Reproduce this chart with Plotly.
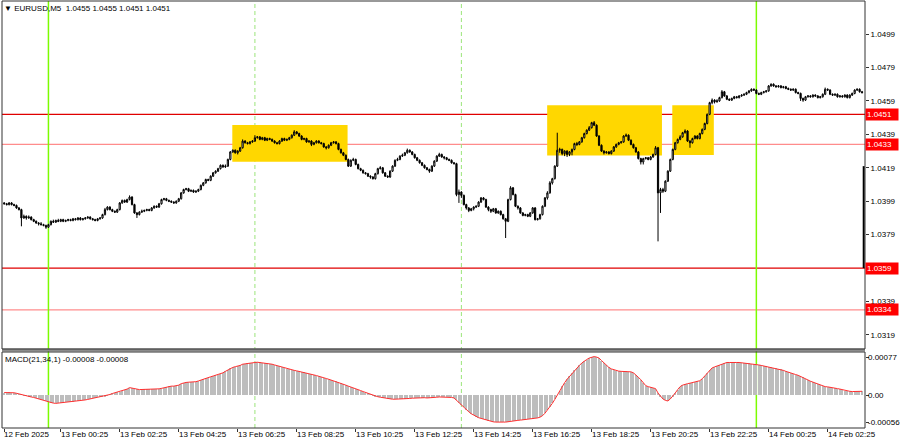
import plotly.graph_objects as go

# ---------------- data (prices stored as pips above BASE) ----------------
BASE = 1.0300
PIP = 0.0001

open_pips = [
    98, 97.5, 97, 98, 97, 96.5, 95, 94, 89, 90,
    89, 89.5, 88, 87, 86, 85.5, 85, 84.5, 83.5, 85,
    87, 86.5, 87.5, 87, 88, 87, 87.5, 88, 87.5, 88.5,
    88, 89, 88, 88.5, 89, 89.5, 88.5, 88, 87.5, 88.5,
    89, 91, 94, 95.5, 94, 93, 92.5, 94, 98, 99.5,
    98.5, 100, 101.5, 97, 92, 91, 92.5, 93, 93.5, 94,
    93.5, 95, 96, 95.5, 97.5, 100, 100.5, 99.5, 99, 98.5,
    98, 99, 100.5, 104, 106, 106.5, 105, 105.5, 104.5, 105,
    106, 108.5, 110, 112, 111.5, 114, 116, 117, 118.5, 120.5,
    119.5, 120, 124, 128.5, 129.5, 128, 129, 131, 135, 134,
    133.5, 134.5, 135, 137, 137.5, 136, 137, 135.5, 136.5, 136,
    135, 134, 133.5, 135, 136.5, 135.5, 136, 137, 138.5, 140.5,
    139.5, 138, 136, 136.5, 134.5, 135, 133, 134, 135, 134,
    133.5, 131.5, 131, 132.5, 134, 134.5, 133.5, 130, 128, 126.5,
    124, 120, 123.5, 124, 121, 118.5, 117.5, 116, 115.5, 114,
    113.5, 112.5, 115.5, 118.5, 119, 116, 114, 113.5, 117, 120,
    123.5, 124, 126, 126.5, 128, 129.5, 128.5, 127, 125, 123.5,
    122, 120.5, 119, 118, 117, 120, 123, 126, 127, 125.5,
    125, 124, 123.5, 122, 121.5, 103, 104.5, 102.5, 97, 95,
    93.5, 94.5, 95.5, 96, 98.5, 101, 100, 95.5, 94, 93,
    94.5, 92, 93, 91, 88.5, 87, 100, 107, 103, 96,
    95, 92, 90.5, 91, 90, 92, 95, 88, 88.5, 91,
    96, 101, 104, 110, 112.5, 120, 129.5, 130, 127.5, 129,
    127, 128.5, 130, 133.5, 133, 134.5, 137, 139.5, 141.5, 143,
    146, 144.5, 138, 132.5, 129, 128, 128.5, 127.5, 129, 131.5,
    133, 134, 134.5, 138, 138.5, 135.5, 133, 131, 128.5, 124.5,
    122.5, 124.5, 125, 124, 125.5, 127, 131, 104, 106, 105,
    111, 117, 124, 130, 134, 136, 137.5, 140, 141, 135,
    134, 136.5, 138, 136.5, 139.5, 142, 145.5, 151, 158, 159.5,
    158.5, 159, 161, 164.5, 162, 160, 159.5, 160.5, 161.5, 161,
    162, 162.5, 163, 164, 165, 166, 165.5, 163.5, 163, 164,
    164.5, 165, 168, 169, 168, 167.5, 168, 167, 167.5, 166.5,
    166, 165.5, 166, 164, 163.5, 160.5, 159.5, 161.5, 162, 161.5,
    162.5, 162, 161, 161.5, 163, 166, 165.5, 163, 162.5, 163,
    161.5, 162, 161.5, 162.5, 161, 162.5, 163.5, 165.5, 166, 164.5,
]

high_pips = [
    98.5, 98, 98.5, 98.5, 97.5, 97, 95.5, 94.5, 91, 90.5,
    90.5, 90, 88.5, 87.5, 86.5, 86.5, 85.5, 85, 85.5, 87.5,
    88, 88, 88.5, 88.5, 88.5, 88, 88.5, 88.5, 89, 89,
    89.5, 89.5, 89, 89.5, 90, 90, 89, 88.5, 89, 89.5,
    91.5, 95, 96, 96, 94.5, 93.5, 94.5, 98.5, 100, 100,
    100.5, 102.5, 102, 97.5, 92.5, 93, 94, 94, 94.5, 94.5,
    95.5, 96.5, 96.5, 98, 100.5, 101, 101, 100, 99.5, 99,
    99.5, 101, 104.5, 106.5, 107, 107, 106, 106, 105.5, 106.5,
    109, 110.5, 112.5, 112.5, 114.5, 116.5, 117.5, 119, 121, 121,
    121, 124.5, 129, 130, 130, 129.5, 131.5, 136, 135.5, 134.5,
    135, 135.5, 138.5, 138, 138, 137.5, 137.5, 137, 137, 136.5,
    135.5, 134.5, 135.5, 137, 137, 136.5, 137.5, 139, 141.5, 141,
    140, 138.5, 137, 137, 135.5, 135.5, 134.5, 135.5, 135.5, 134.5,
    134, 132, 133, 134.5, 135, 135, 134, 130.5, 128.5, 127,
    124.5, 124, 125, 124.5, 121.5, 119, 118, 116.5, 116, 114.5,
    114, 116, 119, 120, 119.5, 116.5, 114.5, 117.5, 120.5, 124,
    125, 126.5, 127.5, 128.5, 130.5, 130, 129, 127.5, 125.5, 124,
    122.5, 121, 119.5, 118.5, 120.5, 123.5, 126.5, 128, 127.5, 126,
    125.5, 124.5, 124, 122.5, 122, 106, 105, 103, 97.5, 95.5,
    95, 96, 96.5, 99, 101.5, 101.5, 100.5, 96, 94.5, 95,
    95, 93.5, 93.5, 91.5, 89, 100.5, 108, 107.5, 103.5, 96.5,
    95.5, 92.5, 91.5, 91.5, 92.5, 95.5, 95.5, 89, 91.5, 96.5,
    101.5, 105, 111, 113, 120.5, 140, 131, 130.5, 129.5, 129.5,
    129, 130.5, 134, 134.5, 135, 137.5, 140, 142, 144, 146.5,
    147, 145, 138.5, 133, 129.5, 129, 129, 129.5, 132, 133.5,
    134.5, 135, 138.5, 139.5, 139, 136, 133.5, 131.5, 129, 125,
    125, 125.5, 125.5, 126, 127.5, 132, 131.5, 107, 107, 111.5,
    117.5, 124.5, 130.5, 134.5, 136.5, 138.5, 140.5, 142, 141.5, 135.5,
    137, 138.5, 138.5, 140, 142.5, 146, 151.5, 158.5, 160.5, 160,
    160, 161.5, 165.5, 165, 162.5, 160.5, 161, 162, 162, 162.5,
    163, 163.5, 164.5, 165.5, 166.5, 166.5, 166, 164, 164.5, 165,
    165.5, 168.5, 169.5, 169.5, 168.5, 168.5, 168.5, 168, 168, 167,
    166.5, 166.5, 166.5, 164.5, 164, 161, 162, 162.5, 162.5, 163,
    163, 162.5, 162, 163.5, 167, 166.5, 166, 163.5, 163.5, 163.5,
    162.5, 162.5, 163, 163, 163, 164, 166, 166.5, 166.5, 165,
]

low_pips = [
    97, 96.5, 96.5, 96.5, 96, 94.5, 93.5, 84, 88.5, 88,
    88.5, 87.5, 86.5, 85.5, 84.5, 84.5, 84, 82.5, 83, 84.5,
    86, 86, 86.5, 86.5, 86.5, 86.5, 87, 87, 87, 87.5,
    87.5, 87.5, 87.5, 88, 88.5, 88, 87.5, 87, 87, 88,
    88.5, 90.5, 93.5, 93.5, 92.5, 92, 92, 93.5, 97.5, 98,
    98, 99.5, 96.5, 91.5, 89, 90.5, 92, 92.5, 93, 93,
    93, 94.5, 95, 95, 97, 99.5, 99, 98.5, 98, 97.5,
    97.5, 98.5, 100, 103.5, 105.5, 104.5, 104.5, 104, 104, 104.5,
    105.5, 108, 109.5, 111, 111, 113.5, 115.5, 116.5, 118, 119,
    119, 119.5, 123.5, 128, 127.5, 127, 128.5, 130.5, 133.5, 133,
    133, 134, 134.5, 136.5, 135.5, 135.5, 135, 135, 135.5, 134.5,
    133.5, 133, 133, 134.5, 135, 135, 135.5, 136.5, 138, 139,
    137.5, 135.5, 135.5, 134, 134, 132, 132.5, 133.5, 133.5, 133,
    131, 130, 130.5, 132, 133.5, 133, 129.5, 127.5, 126, 123.5,
    119.5, 119.5, 123, 120.5, 118, 117, 115.5, 115, 113.5, 112.5,
    112, 112, 115, 118, 115.5, 113.5, 113, 113, 116.5, 119.5,
    123, 123.5, 125.5, 126, 127.5, 128, 126.5, 124.5, 123, 121.5,
    120, 118.5, 117.5, 116, 116.5, 119.5, 122.5, 125.5, 125, 124,
    123.5, 123, 121.5, 121, 102, 98, 101, 96.5, 94, 92.5,
    93, 93.5, 95, 95.5, 98, 99.5, 95, 93, 92, 92.5,
    91.5, 91.5, 90.5, 88, 77, 86.5, 99.5, 102.5, 95.5, 94,
    91.5, 90, 90, 89.5, 89.5, 91.5, 87.5, 87.5, 88, 90.5,
    95.5, 100, 103.5, 109, 112, 119.5, 128, 126.5, 126, 125.5,
    126, 126.5, 129.5, 132, 132.5, 134, 136.5, 139, 141, 142.5,
    144, 137.5, 132, 128.5, 127, 127.5, 127, 127, 128.5, 131,
    132.5, 133.5, 134, 137.5, 135, 132.5, 130.5, 128, 124, 121,
    121, 124, 123.5, 123.5, 125, 126.5, 75, 92, 104, 104.5,
    110.5, 116.5, 123.5, 129.5, 133.5, 135.5, 137, 139.5, 134.5, 131,
    133.5, 136, 136, 136, 139, 141.5, 145, 150.5, 157, 157.5,
    158, 158.5, 160.5, 161.5, 159.5, 159, 159, 160, 160.5, 160.5,
    161.5, 162, 162.5, 163.5, 164.5, 165, 163, 162.5, 162.5, 163.5,
    164, 164.5, 167.5, 167.5, 167, 167, 166.5, 166.5, 166, 165.5,
    165, 165, 163.5, 163, 159, 158.5, 159, 161, 161, 161,
    161.5, 160.5, 160.5, 161, 162.5, 165, 162.5, 162, 162, 161,
    161, 161, 161, 160.5, 160.5, 162, 163, 165, 164, 163.5,
]

close_pips = [
    97.5, 97, 98, 97, 96.5, 95, 94, 89, 90, 89,
    89.5, 88, 87, 86, 85.5, 85, 84.5, 83.5, 85, 87,
    86.5, 87.5, 87, 88, 87, 87.5, 88, 87.5, 88.5, 88,
    89, 88, 88.5, 89, 89.5, 88.5, 88, 87.5, 88.5, 89,
    91, 94, 95.5, 94, 93, 92.5, 94, 98, 99.5, 98.5,
    100, 101.5, 97, 92, 91, 92.5, 93, 93.5, 94, 93.5,
    95, 96, 95.5, 97.5, 100, 100.5, 99.5, 99, 98.5, 98,
    99, 100.5, 104, 106, 106.5, 105, 105.5, 104.5, 105, 106,
    108.5, 110, 112, 111.5, 114, 116, 117, 118.5, 120.5, 119.5,
    120, 124, 128.5, 129.5, 128, 129, 131, 135, 134, 133.5,
    134.5, 135, 137, 137.5, 136, 137, 135.5, 136.5, 136, 135,
    134, 133.5, 135, 136.5, 135.5, 136, 137, 138.5, 140.5, 139.5,
    138, 136, 136.5, 134.5, 135, 133, 134, 135, 134, 133.5,
    131.5, 131, 132.5, 134, 134.5, 133.5, 130, 128, 126.5, 124,
    120, 123.5, 124, 121, 118.5, 117.5, 116, 115.5, 114, 113.5,
    112.5, 115.5, 118.5, 119, 116, 114, 113.5, 117, 120, 123.5,
    124, 126, 126.5, 128, 129.5, 128.5, 127, 125, 123.5, 122,
    120.5, 119, 118, 117, 120, 123, 126, 127, 125.5, 125,
    124, 123.5, 122, 121.5, 103, 104.5, 102.5, 97, 95, 93.5,
    94.5, 95.5, 96, 98.5, 101, 100, 95.5, 94, 93, 94.5,
    92, 93, 91, 88.5, 87, 100, 107, 103, 96, 95,
    92, 90.5, 91, 90, 92, 95, 88, 88.5, 91, 96,
    101, 104, 110, 112.5, 120, 129.5, 130, 127.5, 129, 127,
    128.5, 130, 133.5, 133, 134.5, 137, 139.5, 141.5, 143, 146,
    144.5, 138, 132.5, 129, 128, 128.5, 127.5, 129, 131.5, 133,
    134, 134.5, 138, 138.5, 135.5, 133, 131, 128.5, 124.5, 122.5,
    124.5, 125, 124, 125.5, 127, 131, 104, 106, 105, 111,
    117, 124, 130, 134, 136, 137.5, 140, 141, 135, 134,
    136.5, 138, 136.5, 139.5, 142, 145.5, 151, 158, 159.5, 158.5,
    159, 161, 164.5, 162, 160, 159.5, 160.5, 161.5, 161, 162,
    162.5, 163, 164, 165, 166, 165.5, 163.5, 163, 164, 164.5,
    165, 168, 169, 168, 167.5, 168, 167, 167.5, 166.5, 166,
    165.5, 166, 164, 163.5, 160.5, 159.5, 161.5, 162, 161.5, 162.5,
    162, 161, 161.5, 163, 166, 165.5, 163, 162.5, 163, 161.5,
    162, 161.5, 162.5, 161, 162.5, 163.5, 165.5, 166, 164.5, 164,
]

# MACD(21,34,1) values in units of 1e-5
macd_e5 = [
    5, 5, 5.5, 5, 4.5, 3.5, 2, 0.5, -1, -2,
    -3, -4, -5, -6.5, -8, -9.5, -11, -13, -15, -16,
    -16.5, -17, -16.5, -16, -15.5, -15, -14.5, -14, -13.5, -13,
    -12, -11, -10.5, -10, -9, -8, -7, -6, -4.5, -3.5,
    -3, -2.5, -1, 1, 3, 4.5, 6, 7, 8, 9.5,
    12, 15, 14.5, 13, 12, 11, 11, 11.5, 11.5, 11.5,
    11.5, 12, 12, 12.5, 13.5, 15, 16.5, 17.5, 18, 18,
    18.5, 20, 23, 25, 25.5, 26, 26, 26.5, 27, 28.5,
    30.5, 32, 34, 35, 37, 38.5, 40, 41, 43, 45,
    48, 51, 54, 56, 57.5, 58.5, 60, 62.5, 63.5, 64,
    64.5, 65, 66, 66.5, 66, 65.5, 65, 64.5, 63.5, 62.5,
    61, 59.5, 58, 56, 54.5, 53, 52, 51, 50, 49,
    48, 47, 46, 44.5, 43, 42, 40.5, 39.5, 38, 37,
    35, 33.5, 32, 30.5, 29, 27.5, 26, 24, 22, 20,
    18, 16.5, 15, 13, 11, 9, 7, 5, 3, 1,
    -1, -2.5, -3.5, -4.5, -5.5, -6.5, -7.5, -8, -8.5, -8.5,
    -8.5, -8, -8, -7.5, -7, -7, -6.5, -6, -6, -5.5,
    -5.5, -5.5, -6, -6, -5.5, -5, -4.5, -4, -4, -4,
    -4, -4.5, -5, -6, -11, -16, -20, -25, -30, -34,
    -38, -41, -44, -46, -47.5, -49, -51, -52.5, -53.5, -54.5,
    -55, -55.5, -55.5, -55, -55, -54, -53, -52.5, -52, -51.5,
    -51, -50.5, -50, -49.5, -49, -48, -47.5, -46.5, -45, -42,
    -37, -31, -24, -17, -9, 0, 9, 18, 25, 32,
    38, 44, 50, 55, 60, 65, 69, 72, 75, 77,
    78, 77, 75, 70, 65, 60, 56, 53, 51, 49.5,
    48.5, 48, 48, 48, 47.5, 47, 45, 41, 36, 31,
    24, 19, 17, 16, 15, 13, 4, -3, -8, -11,
    -12, -8, -3, 4, 11, 17, 20, 22, 23, 24,
    25, 26, 27.5, 29, 33, 39, 45, 50, 55, 57,
    59, 61, 63.5, 65, 66, 66, 66.5, 66.5, 66, 66,
    65.5, 65, 64.5, 64, 63.5, 63, 62, 61, 60, 59,
    58, 57, 56, 55, 54.5, 53.5, 52, 50, 48, 46,
    44.5, 43, 41.5, 40, 38, 36, 33, 30.5, 28, 26,
    24, 22, 20, 18, 17, 16.5, 16, 15, 14, 13,
    12, 10.5, 9, 8, 7.5, 7, 7, 7.5, 8, 7.5,
]

time_label_bars = [0, 23, 47, 71, 95, 119, 143, 167, 191, 215, 239, 263, 287, 311, 335]
time_labels = ["12 Feb 2025", "13 Feb 00:25", "13 Feb 02:25", "13 Feb 04:25",
               "13 Feb 06:25", "13 Feb 08:25", "13 Feb 10:25", "13 Feb 12:25",
               "13 Feb 14:25", "13 Feb 16:25", "13 Feb 18:25", "13 Feb 20:25",
               "13 Feb 22:25", "14 Feb 00:25", "14 Feb 02:25"]

price_ticks = [1.0319, 1.0339, 1.0359, 1.0379, 1.0399, 1.0419, 1.0439, 1.0459, 1.0479, 1.0499]
macd_ticks = [-0.00056, 0.0, 0.00077]
macd_tick_text = ["-0.00056", "0.00", "0.00077"]

strong_levels = [1.0451, 1.0359]
weak_levels = [1.0433, 1.0334]

zone_start = [92.8, 220.9, 271.8]
zone_end = [139.7, 267.6, 288.7]
zone_top = [1.04446, 1.04564, 1.04564]
zone_bottom = [1.04226, 1.04264, 1.04267]

day_lines = [18, 306]
session_lines = [102, 186]

edge_bar = [1.0420, 1.0359]

header_text = "\u25bc EURUSD,M5  1.0455 1.0455 1.0451 1.0451"
macd_header = "MACD(21,34,1) -0.00008 -0.00008"

# ---------------- build ----------------
n = len(close_pips)
bars = list(range(n))
to_price = lambda arr: [round(BASE + v * PIP, 5) for v in arr]
o, h, l, c = to_price(open_pips), to_price(high_pips), to_price(low_pips), to_price(close_pips)
macd = [v * 1e-5 for v in macd_e5]

FONT = "Liberation Sans, Arial, sans-serif"
W, H = 900, 441
ML, MR, MT, MB = 2, 35, 1, 13
PH = H - MT - MB


def py(pix):  # pixel row -> paper y
    return (H - MB - pix) / PH


main_dom = [py(349), 1.0]
macd_dom = [0.0, py(352)]

fig = go.Figure()
fig.add_trace(go.Candlestick(
    x=bars, open=o, high=h, low=l, close=c,
    increasing=dict(line=dict(color="black", width=1), fillcolor="white"),
    decreasing=dict(line=dict(color="black", width=1), fillcolor="black"),
    whiskerwidth=0, xaxis="x", yaxis="y", showlegend=False, hoverinfo="skip"))
fig.add_trace(go.Bar(
    x=bars, y=macd, width=0.5, marker=dict(color="#BDBDBD", line=dict(width=0)),
    xaxis="x", yaxis="y2", showlegend=False, hoverinfo="skip"))
fig.add_trace(go.Scatter(
    x=bars, y=macd, mode="lines", line=dict(color="#FF3030", width=1),
    xaxis="x", yaxis="y2", showlegend=False, hoverinfo="skip"))

shapes = []
for x0, x1, y1, y0 in zip(zone_start, zone_end, zone_top, zone_bottom):
    shapes.append(dict(type="rect", xref="x", yref="y", x0=x0, x1=x1, y0=y0, y1=y1,
                       fillcolor="#FFD700", line=dict(width=0), layer="below"))
for lv in weak_levels:
    shapes.append(dict(type="line", xref="paper", yref="y", x0=0, x1=1, y0=lv, y1=lv,
                       line=dict(color="rgba(255,0,0,0.45)", width=1.3), layer="below"))
for lv in strong_levels:
    shapes.append(dict(type="line", xref="paper", yref="y", x0=0, x1=1, y0=lv, y1=lv,
                       line=dict(color="#E00000", width=1.3), layer="below"))
for b in day_lines:
    shapes.append(dict(type="line", xref="x", yref="paper", x0=b, x1=b, y0=0, y1=1,
                       line=dict(color="#7CFC00", width=1.5), layer="below"))
for b in session_lines:
    shapes.append(dict(type="line", xref="x", yref="paper", x0=b, x1=b, y0=0, y1=1,
                       line=dict(color="#9BE57A", width=1, dash="4px,3px"), layer="below"))
# right-edge black bar
shapes.append(dict(type="line", xref="paper", yref="y", x0=0.9985, x1=0.9985,
                   y0=edge_bar[1], y1=edge_bar[0], line=dict(color="black", width=2)))
# panel separator and frames
shapes.append(dict(type="rect", xref="paper", yref="paper", x0=0, x1=1,
                   y0=py(351.5), y1=py(348.5), fillcolor="#8C8C8C", line=dict(width=0)))
shapes.append(dict(type="rect", xref="paper", yref="paper", x0=0, x1=1,
                   y0=main_dom[0], y1=1, line=dict(color="#333333", width=1)))
shapes.append(dict(type="rect", xref="paper", yref="paper", x0=0, x1=1,
                   y0=0, y1=macd_dom[1], line=dict(color="#333333", width=1)))

annotations = []
for b, t in zip(time_label_bars, time_labels):
    annotations.append(dict(x=b, xref="x", y=py(434), yref="paper", text=t,
                            showarrow=False, xanchor="left", yanchor="middle", xshift=-2,
                            font=dict(family=FONT, size=8, color="black")))
for lv in strong_levels + weak_levels:
    annotations.append(dict(x=1, xref="paper", y=lv, yref="y", text=f"{lv:.4f}",
                            showarrow=False, xanchor="left", yanchor="middle", xshift=0,
                            bgcolor="#FF0000", borderpad=1, width=30, align="left",
                            font=dict(family=FONT, size=8, color="white")))
for v, t in zip(macd_ticks, macd_tick_text):
    annotations.append(dict(x=1, xref="paper", y=v, yref="y2", text=t,
                            showarrow=False, xanchor="left", yanchor="middle", xshift=1,
                            font=dict(family=FONT, size=8, color="black")))
annotations.append(dict(x=0, xref="paper", y=1, yref="paper", text=header_text,
                        showarrow=False, xanchor="left", yanchor="top", xshift=0, yshift=-1,
                        font=dict(family=FONT, size=8, color="black")))
annotations.append(dict(x=0, xref="paper", y=macd_dom[1], yref="paper", text=macd_header,
                        showarrow=False, xanchor="left", yanchor="top", xshift=1, yshift=-1,
                        font=dict(family=FONT, size=8, color="black")))

xmin = (ML - 4.2) / 2.458
xmax = (W - MR - 4.2) / 2.458
ytop = 1.0499 + (35 - 2) * 0.00006
ybot = 1.0499 - (349 - 35) * 0.00006
mtop = (395 - 352) * 0.0000203
mbot = -(428 - 395) * 0.0000203

# price tick text; the one hidden under a level box is left blank
covered = set(f"{lv:.4f}" for lv in strong_levels + weak_levels)
price_text = [("" if f"{p:.4f}" in covered else f"{p:.4f}") for p in price_ticks]

fig.update_layout(
    width=W, height=H, margin=dict(l=ML, r=MR, t=MT, b=MB),
    paper_bgcolor="white", plot_bgcolor="white", showlegend=False,
    bargap=0, hovermode=False,
    font=dict(family=FONT, size=8, color="black"),
    xaxis=dict(domain=[0, 1], anchor="y2", range=[xmin, xmax], showgrid=False,
               zeroline=False, showline=False, tickmode="array", tickvals=time_label_bars,
               ticks="outside", ticklen=3, tickcolor="#333333", showticklabels=False,
               rangeslider=dict(visible=False), fixedrange=True, automargin=False),
    yaxis=dict(domain=main_dom, anchor="x", side="right", range=[ybot, ytop],
               showgrid=False, zeroline=False, showline=False, tickmode="array",
               tickvals=price_ticks, ticktext=price_text,
               ticks="outside", ticklen=3, tickcolor="#333333", automargin=False,
               tickfont=dict(family=FONT, size=8, color="black")),
    yaxis2=dict(domain=macd_dom, anchor="x", side="right", range=[mbot, mtop],
                showgrid=False, zeroline=False, showline=False, tickmode="array",
                tickvals=macd_ticks, showticklabels=False, automargin=False,
                ticks="outside", ticklen=3, tickcolor="#333333"),
    shapes=shapes, annotations=annotations,
)

fig.write_html("out.html", config={"displayModeBar": False},
               post_script="document.body.style.margin='0';document.body.style.overflow='hidden';")
